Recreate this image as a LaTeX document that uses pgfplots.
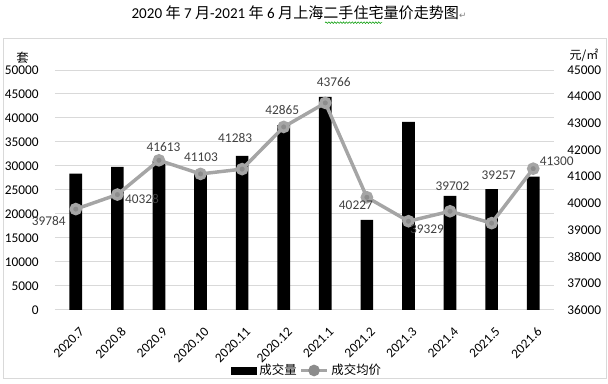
\documentclass[border=0pt]{standalone}
\usepackage{fontspec}
\setmainfont{Carlito}
\newfontfamily\cjk{Noto Sans CJK SC}
\newfontfamily\dejavu{DejaVu Sans}
\usepackage{pgfplots}
\usepackage{pgfplotstable}
\pgfplotsset{compat=1.18}
\usetikzlibrary{decorations.pathmorphing}

\definecolor{gridgray}{HTML}{D9D9D9}
\definecolor{linegray}{HTML}{A5A5A5}
\definecolor{markgray}{HTML}{8C8C8C}
\definecolor{labgray}{HTML}{404040}

\pgfplotstableread{
x v
0 28400
1 29800
2 31000
3 28500
4 32100
5 38500
6 44400
7 18750
8 39200
9 23750
10 25200
11 27800
}\bars

\pgfplotstableread{
x y dx dy
0 39784 -20.25 -9
1 40328 18.4 -3.5
2 41613 3.4 10.3
3 41103 0.4 12.5
4 41283 -5.25 23
5 42865 -1.1 12.75
6 43766 6.4 15.75
7 40227 -8.25 -6
8 39329 13.9 -5.8
9 39702 1.9 18.75
10 39257 5.25 36
11 41300 17.6 5.5
}\price

\begin{document}
\begin{tikzpicture}
\useasboundingbox (0,0) rectangle (456pt,288pt);
\draw[gridgray, line width=0.75pt] (2.25pt,3.75pt) rectangle (454.5pt,258.75pt);
\node[font=\fontsize{11.3}{13}\selectfont, inner sep=0pt, anchor=west] at (98.5pt,278.25pt)
  {2020 {\cjk 年} 7 {\cjk 月}-2021 {\cjk 年} 6 {\cjk 月上海二手住宅量价走势图}{\dejavu\color{gray}\fontsize{6.5}{8}\selectfont ↵}};
\draw[green!60!black, line width=0.4pt, decorate, decoration={snake, amplitude=0.6pt, segment length=2.2pt}]
  (243.75pt,271pt) -- (286.5pt,271pt);
\node[font=\cjk\fontsize{9.3}{11}\selectfont, inner sep=0pt] at (17pt,244.5pt) {套};
\node[font=\cjk\fontsize{9}{11}\selectfont, inner sep=0pt] at (438pt,246.75pt) {元/㎡};

\begin{axis}[
  at={(41.25pt,55.5pt)}, anchor=south west,
  scale only axis, width=374.25pt, height=180pt,
  xmin=-0.5, xmax=11.5, ymin=0, ymax=50000,
  xtick={0,...,11},
  xticklabels={2020.7,2020.8,2020.9,2020.10,2020.11,2020.12,2021.1,2021.2,2021.3,2021.4,2021.5,2021.6},
  ytick={0,5000,...,50000},
  ymajorgrids, grid style={gridgray, line width=0.75pt},
  axis line style={draw=none}, major tick length=0pt,
  tick label style={font=\fontsize{10}{12}\selectfont, text=black},
  /pgf/number format/assume math mode=true,
  /pgf/number format/set thousands separator={},
  scaled y ticks=false,
  yticklabel style={anchor=east, inner sep=0pt, xshift=-12pt},
  xticklabel style={xshift=2.25pt, yshift=-12pt, rotate=45, anchor=north east, inner sep=0pt},
  clip=false,
]
\addplot[ybar, bar width=9.5pt, fill=black, draw=none] table[x=x, y=v] {\bars};
\end{axis}

\begin{axis}[
  at={(41.25pt,55.5pt)}, anchor=south west,
  scale only axis, width=374.25pt, height=180pt,
  xmin=-0.5, xmax=11.5, ymin=36000, ymax=45000,
  axis x line=none, axis y line*=right,
  axis line style={draw=none}, major tick length=0pt,
  xtick=\empty,
  ytick={36000,37000,...,45000},
  tick label style={font=\fontsize{10}{12}\selectfont, text=black},
  /pgf/number format/assume math mode=true,
  /pgf/number format/set thousands separator={},
  scaled y ticks=false,
  yticklabel style={anchor=west, inner sep=0pt, xshift=9.75pt},
  clip=false,
  legend style={at={(0.506,-0.252)}, anchor=center, draw=none, fill=none,
    font=\cjk\fontsize{9.3}{11}\selectfont, inner sep=0pt,
    /tikz/every odd column/.append style={column sep=0pt}},
  legend columns=2,
  legend cell align=left,
]
\addlegendimage{legend image code/.code={\fill[black] (0pt,-2.6pt) rectangle (18.75pt,2.6pt);}}
\addlegendentry{成交量}
\addplot[linegray, line width=2.6pt, mark=*, mark size=3.4pt,
  mark options={fill=markgray, draw=none},
  legend image code/.code={\draw[linegray, line width=2.6pt] (0pt,0pt) -- (19.5pt,0pt);
     \fill[markgray] (9.75pt,0pt) circle (3pt);},
  point meta=explicit symbolic,
  nodes near coords,
  visualization depends on={\thisrow{dx}\as\dx},
  visualization depends on={\thisrow{dy}\as\dy},
  every node near coord/.append style={anchor=center, inner sep=0pt, xshift=\dx, yshift=\dy,
     font=\fontsize{10}{12}\selectfont, text=labgray},
] table[x=x, y=y, meta=y] {\price};
\addlegendentry{成交均价}
\end{axis}
\end{tikzpicture}
\end{document}
